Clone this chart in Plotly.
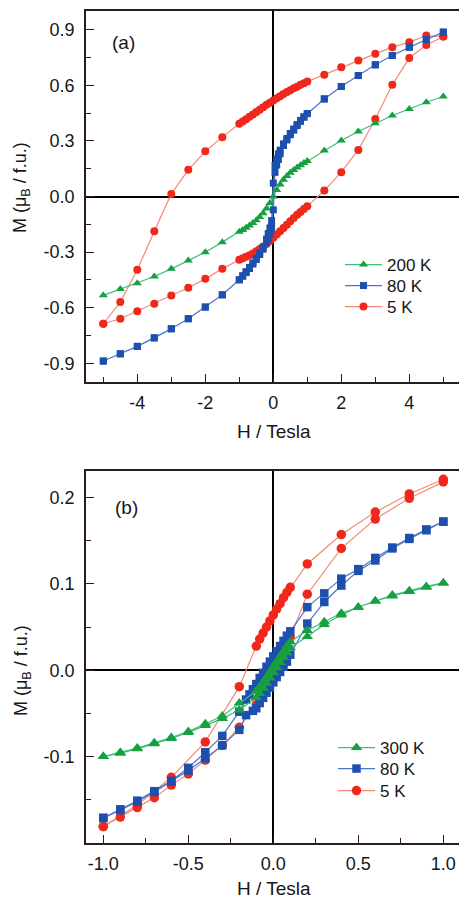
import plotly.graph_objects as go

# ---------------- Panel (a) data ----------------
H_a200 = [-5, -4.5, -4, -3.5, -3, -2.5, -2, -1.5, -1, -0.9, -0.8, -0.7, -0.6, -0.5, -0.4, -0.3, -0.2, -0.1,
          0, 0.1, 0.2, 0.3, 0.4, 0.5, 0.6, 0.7, 0.8, 0.9, 1, 1.5, 2, 2.5, 3, 3.5, 4, 4.5, 5]
M_a200 = [-0.533, -0.499, -0.467, -0.431, -0.39, -0.345, -0.30, -0.246, -0.19, -0.18, -0.168, -0.157, -0.143,
          -0.128, -0.11, -0.09, -0.065, -0.035, 0.0, 0.035, 0.065, 0.09, 0.11, 0.128, 0.143, 0.157, 0.168, 0.18,
          0.192, 0.248, 0.302, 0.35, 0.395, 0.437, 0.472, 0.508, 0.539]

H_a80_down = [5, 4.5, 4, 3.5, 3, 2.5, 2, 1.5, 1, 0.9, 0.8, 0.7, 0.6, 0.5, 0.4, 0.3, 0.2, 0.15, 0.1, 0.05, 0,
              -0.05, -0.1, -0.15, -0.2, -0.3, -0.4, -0.5, -0.6, -0.7, -0.8, -0.9, -1, -1.5, -2, -2.5, -3, -3.5,
              -4, -4.5, -5]
M_a80_down = [0.886, 0.846, 0.805, 0.76, 0.71, 0.652, 0.593, 0.526, 0.447, 0.43, 0.41, 0.388, 0.364, 0.34,
              0.313, 0.284, 0.25, 0.23, 0.203, 0.167, 0.072, -0.13, -0.17, -0.2, -0.23, -0.275, -0.305, -0.333,
              -0.358, -0.382, -0.405, -0.427, -0.449, -0.53, -0.596, -0.659, -0.713, -0.762, -0.808, -0.848, -0.887]
H_a80_up = [-5, -4.5, -4, -3.5, -3, -2.5, -2, -1.5, -1, -0.9, -0.8, -0.7, -0.6, -0.5, -0.4, -0.3, -0.2, -0.15,
            -0.1, -0.05, 0, 0.05, 0.1, 0.15, 0.2, 0.3, 0.4, 0.5, 0.6, 0.7, 0.8, 0.9, 1, 1.5, 2, 2.5, 3, 3.5, 4,
            4.5, 5]
M_a80_up = [-0.887, -0.848, -0.808, -0.762, -0.713, -0.659, -0.596, -0.53, -0.449, -0.43, -0.41, -0.388, -0.364,
            -0.34, -0.313, -0.284, -0.25, -0.23, -0.203, -0.167, -0.072, 0.13, 0.17, 0.2, 0.23, 0.275, 0.305,
            0.333, 0.358, 0.382, 0.405, 0.427, 0.447, 0.526, 0.593, 0.652, 0.71, 0.76, 0.805, 0.846, 0.886]

H_a5_down = [5, 4.5, 4, 3.5, 3, 2.5, 2, 1.5, 1, 0.9, 0.8, 0.7, 0.6, 0.5, 0.4, 0.3, 0.2, 0.1, 0, -0.1, -0.2,
             -0.3, -0.4, -0.5, -0.6, -0.7, -0.8, -0.9, -1, -1.5, -2, -2.5, -3, -3.5, -4, -4.5, -5]
M_a5_down = [0.862, 0.868, 0.832, 0.805, 0.769, 0.733, 0.697, 0.657, 0.62, 0.611, 0.602, 0.592, 0.583, 0.573,
             0.563, 0.552, 0.541, 0.53, 0.518, 0.506, 0.494, 0.481, 0.468, 0.455, 0.442, 0.43, 0.417, 0.404,
             0.392, 0.32, 0.244, 0.144, 0.014, -0.187, -0.395, -0.569, -0.686]
H_a5_up = [-5, -4.5, -4, -3.5, -3, -2.5, -2, -1.5, -1, -0.9, -0.8, -0.7, -0.6, -0.5, -0.4, -0.3, -0.2, -0.1, 0,
           0.1, 0.2, 0.3, 0.4, 0.5, 0.6, 0.7, 0.8, 0.9, 1, 1.5, 2, 2.5, 3, 3.5, 4, 4.5, 5]
M_a5_up = [-0.686, -0.659, -0.618, -0.578, -0.534, -0.492, -0.444, -0.39, -0.341, -0.333, -0.325, -0.317,
           -0.307, -0.295, -0.283, -0.27, -0.256, -0.24, -0.222, -0.205, -0.188, -0.17, -0.152, -0.134, -0.116,
           -0.099, -0.083, -0.068, -0.053, 0.032, 0.131, 0.251, 0.418, 0.602, 0.747, 0.817, 0.862]

# ---------------- Panel (b) data ----------------
H_b300_down = [1.0, 0.9, 0.8, 0.7, 0.6, 0.5, 0.4, 0.3, 0.2, 0.1, 0.08, 0.06, 0.04, 0.02, 0.0, -0.02, -0.04,
               -0.06, -0.08, -0.1, -0.2, -0.3, -0.4, -0.5, -0.6, -0.7, -0.8, -0.9, -1.0]
M_b300_down = [0.101, 0.097, 0.092, 0.087, 0.080, 0.073, 0.066, 0.056, 0.046, 0.033, 0.028, 0.022, 0.016,
               0.010, 0.004, -0.002, -0.008, -0.014, -0.019, -0.024, -0.038, -0.053, -0.062, -0.071, -0.078,
               -0.084, -0.090, -0.095, -0.100]
H_b300_up = [-1.0, -0.9, -0.8, -0.7, -0.6, -0.5, -0.4, -0.3, -0.2, -0.1, -0.08, -0.06, -0.04, -0.02, 0.0,
             0.02, 0.04, 0.06, 0.08, 0.1, 0.2, 0.3, 0.4, 0.5, 0.6, 0.7, 0.8, 0.9, 1.0]
M_b300_up = [-0.100, -0.096, -0.091, -0.085, -0.079, -0.072, -0.064, -0.056, -0.046, -0.032, -0.027, -0.021,
             -0.015, -0.009, -0.003, 0.003, 0.009, 0.015, 0.020, 0.026, 0.039, 0.053, 0.064, 0.073, 0.080,
             0.086, 0.091, 0.096, 0.101]

H_b80_down = [1.0, 0.9, 0.8, 0.7, 0.6, 0.5, 0.4, 0.3, 0.2, 0.1, 0.08, 0.06, 0.04, 0.02, 0.0, -0.02, -0.04,
              -0.06, -0.08, -0.1, -0.12, -0.14, -0.16, -0.2, -0.3, -0.4, -0.5, -0.6, -0.7, -0.8, -0.9, -1.0]
M_b80_down = [0.172, 0.163, 0.153, 0.142, 0.130, 0.117, 0.106, 0.089, 0.073, 0.045, 0.040, 0.034, 0.028,
              0.022, 0.016, 0.010, 0.004, -0.003, -0.009, -0.016, -0.022, -0.028, -0.034, -0.048, -0.076,
              -0.095, -0.113, -0.128, -0.140, -0.151, -0.161, -0.171]
H_b80_up = [-1.0, -0.9, -0.8, -0.7, -0.6, -0.5, -0.4, -0.3, -0.2, -0.16, -0.12, -0.1, -0.08, -0.06, -0.04,
            -0.02, 0.0, 0.02, 0.04, 0.06, 0.08, 0.1, 0.2, 0.3, 0.4, 0.5, 0.6, 0.7, 0.8, 0.9, 1.0]
M_b80_up = [-0.171, -0.162, -0.152, -0.141, -0.129, -0.116, -0.102, -0.087, -0.069, -0.052, -0.047, -0.044,
            -0.038, -0.032, -0.026, -0.020, -0.014, -0.008, -0.002, 0.004, 0.010, 0.018, 0.054, 0.079, 0.098,
            0.115, 0.127, 0.141, 0.152, 0.162, 0.172]

H_b5_down = [1.0, 0.8, 0.6, 0.4, 0.2, 0.1, 0.08, 0.06, 0.04, 0.02, 0.0, -0.02, -0.04, -0.06, -0.08, -0.1,
             -0.2, -0.4, -0.6, -0.8, -1.0]
M_b5_down = [0.221, 0.204, 0.183, 0.157, 0.123, 0.096, 0.090, 0.084, 0.077, 0.071, 0.064, 0.057, 0.050,
             0.043, 0.036, 0.028, -0.019, -0.083, -0.124, -0.156, -0.181]
H_b5_up = [-1.0, -0.9, -0.8, -0.7, -0.6, -0.5, -0.4, -0.3, -0.2, -0.1, -0.08, -0.06, -0.04, -0.02, 0.0, 0.02,
           0.04, 0.06, 0.08, 0.1, 0.2, 0.4, 0.6, 0.8, 1.0]
M_b5_up = [-0.181, -0.170, -0.159, -0.1475, -0.133, -0.120, -0.104, -0.087, -0.066, -0.040, -0.033, -0.026,
           -0.019, -0.012, -0.005, 0.003, 0.011, 0.019, 0.028, 0.038, 0.088, 0.141, 0.175, 0.199, 0.218]

labels_a = ["200 K", "80 K", "5 K"]
labels_b = ["300 K", "80 K", "5 K"]
xtick_a = [-4, -2, 0, 2, 4]
xtick_a_text = ["-4", "-2", "0", "2", "4"]
ytick_a = [-0.9, -0.6, -0.3, 0.0, 0.3, 0.6, 0.9]
ytick_a_text = ["-0.9", "-0.6", "-0.3", "0.0", "0.3", "0.6", "0.9"]
xtick_b = [-1.0, -0.5, 0.0, 0.5, 1.0]
xtick_b_text = ["-1.0", "-0.5", "0.0", "0.5", "1.0"]
ytick_b = [-0.1, 0.0, 0.1, 0.2]
ytick_b_text = ["-0.1", "0.0", "0.1", "0.2"]

# ---------------- styling ----------------
FONT = "Liberation Sans, Arial, sans-serif"
GREEN_M, GREEN_L = "#16a040", "#3fbf78"
BLUE_M, BLUE_L = "#1d4fae", "#4a78cc"
RED_M, RED_L = "#f0281c", "#f58a74"
FRAME = "#2a1c1c"
TXT = "#161616"

W, H = 459, 901
x0 = 273.3  # pixel of H=0 (for range computations)

fig = go.Figure()


def loop(hd, md, hu, mu):
    return hd + [None] + hu, md + [None] + mu


def add(x, y, name, sym, mc, lc, size, xa, ya, leg, lw=1.2):
    fig.add_trace(go.Scatter(
        x=x, y=y, name=name, mode="lines+markers", xaxis=xa, yaxis=ya, legend=leg,
        connectgaps=True,
        line=dict(color=lc, width=lw),
        marker=dict(symbol=sym, color=mc, size=size, line=dict(width=0)),
    ))


# panel (a): draw order red, blue, green
xr, yr = loop(H_a5_down, M_a5_down, H_a5_up, M_a5_up)
add(xr, yr, labels_a[2], "circle", RED_M, RED_L, 8, "x", "y", "legend3")
xb, yb = loop(H_a80_down, M_a80_down, H_a80_up, M_a80_up)
add(xb, yb, labels_a[1], "square", BLUE_M, BLUE_L, 7, "x", "y", "legend2")
add(H_a200, M_a200, labels_a[0], "triangle-up", GREEN_M, GREEN_L, 8, "x", "y", "legend")

# panel (b)
xr, yr = loop(H_b5_down, M_b5_down, H_b5_up, M_b5_up)
add(xr, yr, labels_b[2], "circle", RED_M, RED_L, 9.5, "x2", "y2", "legend6")
xb, yb = loop(H_b80_down, M_b80_down, H_b80_up, M_b80_up)
add(xb, yb, labels_b[1], "square", BLUE_M, BLUE_L, 8.5, "x2", "y2", "legend5")
xg, yg = loop(H_b300_down, M_b300_down, H_b300_up, M_b300_up)
add(xg, yg, labels_b[0], "triangle-up", GREEN_M, GREEN_L, 10, "x2", "y2", "legend4")

left_px, right_px = 86, 459
top_a, bot_a = 11, 382
top_b, bot_b = 471, 843


def axis_common(tv, tt, rng, dom, anchor, minor_dtick, mtick0, mirror, standoff):
    return dict(
        domain=dom, range=rng, anchor=anchor, tickmode="array", tickvals=tv, ticktext=tt,
        ticks="inside", ticklen=8, tickwidth=1.3, tickcolor=FRAME,
        minor=dict(ticks="inside", ticklen=5, tickwidth=1.3, tickcolor=FRAME, dtick=minor_dtick, tick0=mtick0),
        showline=True, linecolor=FRAME, linewidth=1.6, mirror=mirror,
        showgrid=False, zeroline=True, zerolinecolor="#000000", zerolinewidth=1.6,
        tickfont=dict(family=FONT, size=18, color=TXT), ticklabelstandoff=standoff,
        fixedrange=True, automargin=False,
    )


xdom = [left_px / W, right_px / W]
ppu_a = 34.0
ppu_b = 170.0
xr_a = [(left_px - x0) / ppu_a, (right_px - x0) / ppu_a]
xr_b = [(left_px - x0) / ppu_b, (right_px - x0) / ppu_b]

ydom_a = [1 - bot_a / H, 1 - top_a / H]
ydom_b = [1 - bot_b / H, 1 - top_b / H]


def leg(xpx, ypx):
    return dict(x=xpx / W, y=1 - ypx / H, xanchor="left", yanchor="middle",
                font=dict(family=FONT, size=17, color=TXT), bgcolor="rgba(0,0,0,0)",
                itemwidth=37, borderwidth=0)


fig.update_layout(
    width=W, height=H, margin=dict(l=0, r=0, t=0, b=0, autoexpand=False),
    paper_bgcolor="white", plot_bgcolor="white",
    font=dict(family=FONT, color=TXT),
    xaxis=axis_common(xtick_a, xtick_a_text, xr_a, xdom, "y", 1, 1, True, 4),
    yaxis=axis_common(ytick_a, ytick_a_text, [-1.0, 1.0], ydom_a, "x", 0.15, 0.15, False, 6),
    xaxis2=axis_common(xtick_b, xtick_b_text, xr_b, xdom, "y2", 0.25, 0.25, True, 4),
    yaxis2=axis_common(ytick_b, ytick_b_text, [-0.2, 0.2306], ydom_b, "x2", 0.05, 0.05, False, 6),
    legend=leg(340, 265),
    legend2=leg(340, 286),
    legend3=leg(340, 307),
    legend4=leg(333, 748),
    legend5=leg(333, 769),
    legend6=leg(333, 791),
    showlegend=True,
)

ann = [
    dict(text="(a)", x=123 / W, y=1 - 43 / H, size=19),
    dict(text="(b)", x=126 / W, y=1 - 508 / H, size=19),
    dict(text="H / Tesla", x=274 / W, y=1 - 431 / H, size=19),
    dict(text="H / Tesla", x=274 / W, y=1 - 888 / H, size=19),
]
for a in ann:
    fig.add_annotation(text=a["text"], x=a["x"], y=a["y"], xref="paper", yref="paper",
                       xanchor="center", yanchor="middle", showarrow=False,
                       font=dict(family=FONT, size=a["size"], color=TXT))
for yc in (188, 671):
    fig.add_annotation(text="M (μ<sub>B</sub> / f.u.)", x=22 / W, y=1 - yc / H, xref="paper", yref="paper",
                       xanchor="center", yanchor="middle", showarrow=False, textangle=-90,
                       font=dict(family=FONT, size=18, color=TXT))

fig.write_html("out.html", config={"displayModeBar": False},
               post_script="document.body.style.margin='0px';document.body.style.overflow='hidden';")
